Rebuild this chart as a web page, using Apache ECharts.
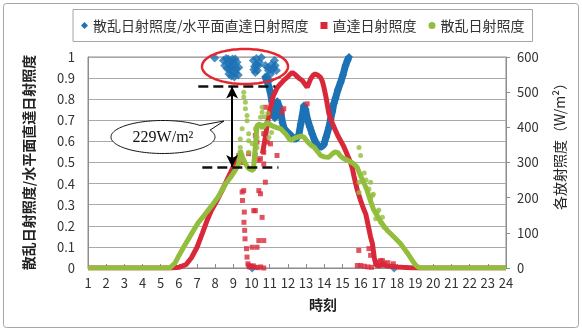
<!DOCTYPE html>
<html>
<head>
<meta charset="utf-8">
<script src="https://cdn.jsdelivr.net/npm/echarts@6/dist/echarts.min.js"></script>
<style>
html,body{margin:0;padding:0;background:#fff}
#chart{width:582px;height:331px}
</style>
</head>
<body>
<div id="chart"></div>
<script>
// ---- series names ----
const nameRatio = '散乱日射照度/水平面直達日射照度';
const nameDirect = '直達日射照度';
const nameDiffuse = '散乱日射照度';
const nameIrrad = '各放射照度（W/m²）';
const nameHour = '時刻';

// ---- axis ticks ----
const hourTicks = [1, 24, 1];          // min, max, step
const ratioTicks = [0, 1, 0.1];
const irradTicks = [0, 600, 100];

// ---- diffuse / direct-horizontal ratio (left axis) ----
const ratioBand = [[10.75,0.905],[10.85,0.885],[10.95,0.86],[11.04,0.83],[11.12,0.79],[11.2,0.745],[11.28,0.71],
  [11.36,0.73],[11.42,0.79],[11.5,0.77],[11.6,0.74],[11.7,0.69],[11.8,0.66],[11.95,0.645],[12.05,0.64],[12.2,0.625],
  [12.32,0.612],[12.45,0.612],[12.6,0.63],[12.7,0.68],[12.79,0.72],[12.88,0.77],[12.97,0.75],[13.06,0.71],[13.2,0.67],
  [13.34,0.635],[13.45,0.61],[13.6,0.585],[13.7,0.573],[13.85,0.575],[13.98,0.585],[14.1,0.62],[14.25,0.665],
  [14.35,0.705],[14.44,0.74],[14.53,0.78],[14.62,0.805],[14.75,0.845],[14.9,0.88],[15.03,0.915],[15.17,0.96],
  [15.28,0.985],[15.36,1.0]];
const ratioCluster = [[7.97,0.995],
  [8.45,0.983],[8.52,0.96],[8.6,0.993],[8.65,0.945],[8.7,0.97],[8.75,0.92],[8.83,0.975],[8.86,0.95],[8.95,0.99],
  [9.1,0.99],[9.2,0.975],[8.94,0.955],[8.78,0.94],[9.0,0.93],[9.16,0.945],[8.89,0.91],[9.05,0.905],[9.12,0.925],
  [9.27,0.915],[9.3,0.95],[9.02,0.97],[8.72,0.99],
  [10.1,0.983],[10.27,0.993],[10.43,0.975],[10.16,0.955],[10.32,0.936],[10.54,0.998],[10.21,0.926],[10.38,0.96],
  [10.25,0.965],[10.12,0.94],
  [10.76,0.96],[10.93,0.936],[11.1,0.964],[11.26,0.983],[10.82,0.907],[10.98,0.889],[11.37,0.936],[11.2,0.95],
  [11.05,0.92],[11.3,0.96],[10.9,0.95],[11.15,0.94],
  [10.03,0],[17.84,0]];

// ---- direct irradiance W/m2 (right axis) ----
const directMorning = [[1,0],[5.6,0],[6.0,2],[6.4,10],[6.7,30],[7.0,59],[7.3,100],[7.55,135],[7.8,165],[8.1,192],
  [8.35,218],[8.6,245],[8.85,272],[9.1,300],[9.3,318],[9.42,326]];
const directAfternoon = [[10.6,325],[10.75,370],[10.9,420],[11.04,457],[11.2,490],[11.4,512],[11.6,524],[11.8,535],
  [11.96,542],[12.1,550],[12.24,556],[12.4,550],[12.5,546],[12.65,538],[12.79,533],[12.95,522],[13.06,514],
  [13.15,525],[13.25,538],[13.38,548],[13.5,552],[13.65,548],[13.8,542],[13.9,530],[13.98,514],[14.08,490],
  [14.16,467],[14.25,440],[14.35,424],[14.5,405],[14.62,391],[14.75,376],[14.9,362],[15.05,348],[15.17,334],
  [15.3,318],[15.45,300],[15.55,282],[15.63,262],[15.8,225],[16.0,192],[16.15,170],[16.28,154],[16.38,130],
  [16.46,110],[16.55,88],[16.65,69],[16.75,30],[16.85,8],[17.0,6],[17.2,9],[17.45,6],[17.7,5],[18.0,3],[18.3,2],
  [18.7,1],[19.0,0],[24,0]];
const directScatter = [[9.45,300],[9.48,216],[9.5,192],[9.57,220],[9.6,159],[9.58,130],[9.62,107],[9.64,83],
  [9.72,55],[9.75,31],[9.8,12],[9.84,7],[9.9,3],[9.29,320],[9.38,311],[9.84,325],[10.2,320],[10.4,306],[10.67,296],
  [10.67,329],[10.49,311],[11.4,320],[10.12,163],[10.21,163],[10.4,220],[10.49,211],[10.76,244],[10.58,144],
  [10.3,59],[10.4,78],[10.67,78],[10.03,59],[10.2,2],[10.5,3],[10.67,0],[9.95,5],[10.1,6],[10.35,1],[10.58,405],
  [10.67,382],[10.21,377],[10.3,358],[10.86,358],[11.04,353],[11.77,453],[11.68,443],[13.06,467],[10.76,457],
  [15.9,50],[16.0,7],[16.55,36],[16.46,55],[16.92,17],[17.2,21],[15.82,7],[17.1,21],[17.5,15],[17.8,12],[16.2,5],
  [16.4,3],[16.6,2],[17.3,14]];

// ---- diffuse irradiance W/m2 (right axis) ----
const diffuseLine = [[1,0],[5.5,0],[5.8,15],[6.0,35],[6.26,59],[6.5,80],[6.75,102],[7.08,130],[7.4,150],[7.82,178],
  [8.2,205],[8.56,239],[8.9,262],[9.15,282],[9.29,296],[9.38,334],[9.5,316],[9.65,298],[9.8,285],[9.93,280],
  [10.1,278],[10.2,340],[10.3,405],[10.45,410],[10.6,398],[10.85,414],[11.1,405],[11.35,400],[11.6,396],
  [11.9,380],[12.14,362],[12.4,370],[12.7,375],[12.88,372],[13.1,358],[13.3,348],[13.45,343],[13.65,330],
  [13.8,320],[14.0,316],[14.25,315],[14.45,325],[14.6,330],[14.75,328],[14.9,318],[15.08,311],[15.3,306],
  [15.5,300],[15.63,296],[15.8,287],[16.0,262],[16.2,240],[16.36,220],[16.55,190],[16.7,168],[16.9,150],
  [17.1,132],[17.3,118],[17.5,105],[17.84,88],[18.2,69],[18.4,55],[18.58,42],[18.8,25],[19.0,10],[19.15,3],
  [19.3,0],[24,0]];
const diffuseScatter = [[9.57,500],[9.57,486],[9.66,471],[9.66,453],[9.75,434],[9.75,419],[9.48,396],[9.38,367],
  [9.84,382],[9.84,362],[9.38,343],[9.84,329],[9.4,320],[10.58,457],[10.58,443],[10.49,429],[10.21,396],[10.3,372],
  [10.3,343],[10.03,353],[10.21,325],[15.91,343],[16.0,320],[15.91,244],[15.91,215],[16.55,244],[16.46,225],
  [16.65,206],[16.55,197],[16.92,159],[17.2,144],[17.1,130],[16.83,140],[17.29,116],[10.7,430],[10.9,440],
  [11.1,385],[10.95,372],[16.2,270],[16.3,250],[16.7,210],[17.0,165]];

// ---- annotation: rise of diffuse irradiance ----
const gapTopW = 516;
const gapW = 229;
const gapHour = 8.93;
const gapSpan = [[7.07, 11.31], [7.29, 11.48]];   // hour extent of upper / lower dashed lines

const BLUE = '#1c72b4', RED = '#d8283a', GREEN = '#93bd3c';
const FONT = '"Noto Sans CJK JP", "Noto Sans", sans-serif';

const chart = echarts.init(document.getElementById('chart'), null, {renderer: 'canvas'});

const gapBottomW = gapTopW - gapW;
const dash = {type: [10, 5], width: 2.5, color: '#111'};

// ellipse outline helper (geometry only)
function ellipse(cx, cy, rx, ry, t0, t1, n) {
  const pts = [];
  for (let i = 0; i <= n; i++) {
    const t = (t0 + (t1 - t0) * i / n) * Math.PI / 180;
    pts.push([cx + rx * Math.cos(t), cy - ry * Math.sin(t)]);
  }
  return pts;
}

const calloutPts = [[224, 121]].concat(ellipse(163, 137, 52, 16.5, 25, 44.6 - 360, 120));

chart.setOption({
  animation: false,
  backgroundColor: '#fff',
  textStyle: {fontFamily: FONT},
  legend: {
    left: 73, top: 9.5,
    padding: [9, 8, 9, 8],
    itemGap: 12,
    itemWidth: 7, itemHeight: 7,
    borderColor: '#a6a6a6', borderWidth: 1,
    textStyle: {fontSize: 14, color: '#333', fontFamily: FONT},
    data: [
      {name: nameRatio, icon: 'diamond'},
      {name: nameDirect, icon: 'rect'},
      {name: nameDiffuse, icon: 'circle'}
    ]
  },
  grid: {left: 88, right: 76, top: 57, bottom: 63, show: true, borderColor: '#8c8c8c', borderWidth: 1},
  xAxis: {
    type: 'value', min: hourTicks[0], max: hourTicks[1], interval: hourTicks[2],
    axisLine: {lineStyle: {color: '#8c8c8c'}},
    axisTick: {inside: true, length: 4, lineStyle: {color: '#8c8c8c'}},
    axisLabel: {fontSize: 13, color: '#333', margin: 9, fontFamily: FONT},
    splitLine: {show: false}
  },
  yAxis: [{
    type: 'value', min: ratioTicks[0], max: ratioTicks[1], interval: ratioTicks[2],
    position: 'left',
    name: nameRatio, nameLocation: 'middle', nameRotate: 90, nameGap: 52,
    nameTextStyle: {fontSize: 14, fontWeight: 'bold', color: '#222', fontFamily: FONT},
    axisLine: {show: true, lineStyle: {color: '#8c8c8c'}},
    axisTick: {show: false},
    axisLabel: {fontSize: 13, color: '#333', margin: 13, fontFamily: FONT},
    splitLine: {lineStyle: {color: '#a9a9a9', width: 1}}
  }, {
    type: 'value', min: irradTicks[0], max: irradTicks[1], interval: irradTicks[2],
    position: 'right',
    axisLine: {show: true, lineStyle: {color: '#8c8c8c'}},
    axisTick: {show: true, length: 4, lineStyle: {color: '#8c8c8c'}},
    axisLabel: {fontSize: 13, color: '#333', margin: 11, fontFamily: FONT},
    splitLine: {show: false}
  }],
  series: [
    {name: nameRatio, type: 'line', yAxisIndex: 0, data: ratioBand, symbol: 'diamond', symbolSize: 8,
      showAllSymbol: true, lineStyle: {width: 7, color: BLUE}, itemStyle: {color: BLUE}, z: 2},
    {name: nameRatio, type: 'scatter', yAxisIndex: 0, data: ratioCluster, symbol: 'diamond', symbolSize: 9,
      itemStyle: {color: BLUE}, z: 2},
    {name: nameDirect, type: 'line', yAxisIndex: 1, data: directMorning, showSymbol: false,
      lineStyle: {width: 5, color: RED}, itemStyle: {color: RED}, z: 3},
    {name: nameDirect, type: 'line', yAxisIndex: 1, data: directAfternoon, showSymbol: false,
      lineStyle: {width: 5, color: RED}, itemStyle: {color: RED}, z: 3,
      markLine: {
        silent: true, symbol: 'none', label: {show: false}, lineStyle: dash,
        data: [
          [{coord: [gapSpan[0][0], gapTopW]}, {coord: [gapSpan[0][1], gapTopW]}],
          [{coord: [gapSpan[1][0], gapBottomW]}, {coord: [gapSpan[1][1], gapBottomW]}],
          [{coord: [gapHour, gapTopW], lineStyle: {type: 'solid', width: 2, color: '#000'}, symbol: 'arrow', symbolSize: [9, 12]},
           {coord: [gapHour, gapBottomW], symbol: 'arrow', symbolSize: [9, 12]}]
        ]
      }},
    {name: nameDirect, type: 'scatter', yAxisIndex: 1, data: directScatter, symbol: 'rect', symbolSize: 5,
      itemStyle: {color: RED}, z: 3},
    {name: nameDiffuse, type: 'line', yAxisIndex: 1, data: diffuseLine, showSymbol: false,
      lineStyle: {width: 5, color: GREEN}, itemStyle: {color: GREEN}, z: 4},
    {name: nameDiffuse, type: 'scatter', yAxisIndex: 1, data: diffuseScatter, symbol: 'circle', symbolSize: 5,
      itemStyle: {color: GREEN}, z: 4}
  ],
  graphic: [
    {type: 'rect', shape: {x: 3.5, y: 3.5, width: 575, height: 324, r: 3},
      style: {fill: 'none', stroke: '#a6a6a6', lineWidth: 1}, z: 0, silent: true},
    {type: 'polygon', shape: {points: ellipse(245, 66.5, 43, 17.5, 0, 360, 120)},
      style: {fill: 'none', stroke: '#e3262f', lineWidth: 2.5}, z: 100, silent: true},
    {type: 'polygon', shape: {points: calloutPts},
      style: {fill: '#fff', stroke: '#111', lineWidth: 1}, z: 100, silent: true},
    {type: 'text', x: 163, y: 138,
      style: {text: gapW + 'W/m²', fontFamily: '"Liberation Serif", serif', fontSize: 16, fill: '#111',
        align: 'center', verticalAlign: 'middle'}, z: 101, silent: true},
    {type: 'text', x: 323, y: 305,
      style: {text: nameHour, fontFamily: FONT, fontSize: 14, fontWeight: 'bold', fill: '#222',
        align: 'center', verticalAlign: 'middle'}, z: 101, silent: true},
    {type: 'text', x: 560, y: 143, rotation: Math.PI / 2,
      style: {text: nameIrrad, fontFamily: FONT, fontSize: 14, fill: '#222',
        align: 'center', verticalAlign: 'middle'}, z: 101, silent: true}
  ]
});
</script>
</body>
</html>
